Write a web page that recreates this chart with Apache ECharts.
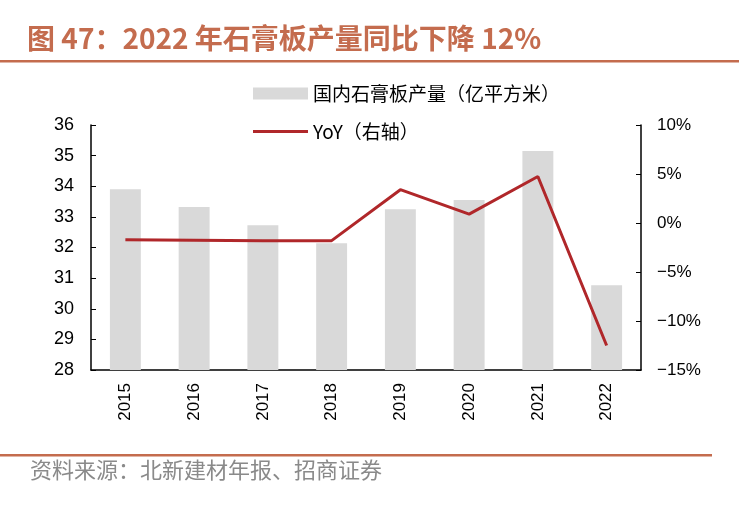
<!DOCTYPE html>
<html><head><meta charset="utf-8">
<script src="https://cdn.jsdelivr.net/npm/echarts@6/dist/echarts.min.js"></script>
<style>html,body{margin:0;padding:0;background:#fff}#c{width:754px;height:525px}</style>
</head><body><div id="c"></div>
<script>
const categories = ['2015','2016','2017','2018','2019','2020','2021','2022'];
const production = [33.9, 33.32, 32.73, 32.14, 33.25, 33.55, 35.15, 30.77];
const yoy = [-1.7, -1.75, -1.8, -1.8, 3.4, 0.9, 4.75, -12.5];
const leftTicks = [28, 36, 1];
const rightTicks = [-15, 10, 5];

const chart = echarts.init(document.getElementById('c'));
const axisFont = {fontFamily: 'Liberation Sans, Arial, sans-serif', fontSize: 17, color: '#000'};
const cjk = '"Noto Sans CJK SC", sans-serif';
const accent = '#C46C4E';
chart.setOption({
  animation: false,
  grid: {left: 91, right: 113, top: 125, bottom: 155},
  legend: [
    {data: [{name: '国内石膏板产量（亿平方米）', icon: 'rect'}], left: 248, top: 79, itemWidth: 55, itemHeight: 12,
     textStyle: {fontFamily: cjk, fontSize: 19, color: '#000'}, itemGap: 8},
    {data: [{name: 'YoY（右轴）', icon: 'rect'}], left: 248, top: 117, itemWidth: 55, itemHeight: 3,
     textStyle: {fontFamily: cjk, fontSize: 19, color: '#000'}}
  ],
  xAxis: {
    type: 'category', data: categories, boundaryGap: true,
    axisLine: {onZero: false, lineStyle: {color: '#000', width: 1.5}},
    axisTick: {inside: true, length: 5, alignWithLabel: false, lineStyle: {color: '#000'}},
    axisLabel: Object.assign({rotate: 90, margin: 13}, axisFont)
  },
  yAxis: [
    {type: 'value', min: leftTicks[0], max: leftTicks[1], interval: leftTicks[2],
     axisLine: {show: true, onZero: false, lineStyle: {color: '#000', width: 1.5}},
     axisTick: {show: true, inside: true, length: 5, lineStyle: {color: '#000'}},
     splitLine: {show: false},
     axisLabel: Object.assign({}, axisFont, {margin: 17, fontSize: 18})},
    {type: 'value', min: rightTicks[0], max: rightTicks[1], interval: rightTicks[2], position: 'right',
     axisLine: {show: true, onZero: false, lineStyle: {color: '#000', width: 1.5}},
     axisTick: {show: true, inside: true, length: 5, lineStyle: {color: '#000'}},
     splitLine: {show: false},
     axisLabel: Object.assign({margin: 16, formatter: v => (v < 0 ? '\u2212' + Math.abs(v) : v) + '%'}, axisFont)}
  ],
  series: [
    {name: '国内石膏板产量（亿平方米）', type: 'bar', data: production, barWidth: '45%',
     itemStyle: {color: '#D9D9D9'}},
    {name: 'YoY（右轴）', type: 'line', yAxisIndex: 1, data: yoy, symbol: 'none',
     lineStyle: {color: '#B0272A', width: 3}, itemStyle: {color: '#B0272A'}}
  ],
  graphic: [
    {type: 'text', left: 27, top: 24, style: {text: '图 47：2022 年石膏板产量同比下降 12%', fill: accent,
      font: 'bold 28px ' + cjk}},
    {type: 'rect', shape: {x: 0, y: 60, width: 739, height: 2.5}, style: {fill: accent}},
    {type: 'rect', shape: {x: 0, y: 454, width: 712, height: 2.5}, style: {fill: accent}},
    {type: 'text', left: -11, top: 459, style: {text: '：', fill: '#8a8a8a', font: '22px ' + cjk}},
    {type: 'text', left: 30, top: 459, style: {text: '资料来源：北新建材年报、招商证券', fill: '#8a8a8a', font: '22px ' + cjk}}
  ]
});
</script></body></html>
